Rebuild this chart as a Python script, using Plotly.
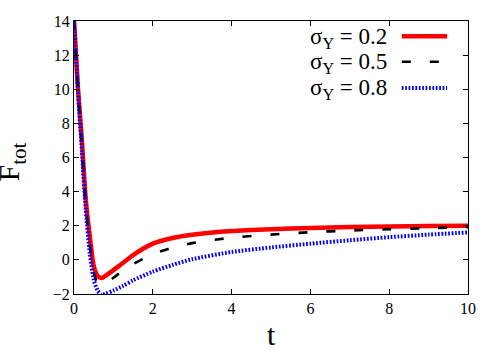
import plotly.graph_objects as go

# ---- data ----
t = [0, 0.1, 0.2, 0.3, 0.4, 0.5, 0.6, 0.7, 0.8, 1.0, 1.25, 1.5, 2.0, 2.5, 3.0, 4.0, 5.0, 6.0, 7.0, 8.0, 9.0, 10.0]
f_02 = [14, 10.1, 7.0, 3.5, 1.4, -0.35, -0.95, -1.06, -0.93, -0.6, -0.17, 0.28, 0.95, 1.28, 1.47, 1.69, 1.8, 1.87, 1.92, 1.95, 1.98, 2.0]
f_05 = [14, 10.0, 6.7, 3.2, 0.9, -0.75, -1.38, -1.47, -1.38, -1.05, -0.62, -0.25, 0.33, 0.72, 0.98, 1.3, 1.48, 1.62, 1.72, 1.8, 1.86, 1.92]
f_08 = [14, 9.9, 6.4, 2.9, 0.4, -1.15, -1.8, -2.05, -1.98, -1.8, -1.52, -1.2, -0.69, -0.3, 0.04, 0.46, 0.73, 0.95, 1.15, 1.33, 1.48, 1.61]
labels = ["σ<sub>Y</sub> = 0.2", "σ<sub>Y</sub> = 0.5", "σ<sub>Y</sub> = 0.8"]
x_ticks = [0, 2, 4, 6, 8, 10]
y_ticks = [-2, 0, 2, 4, 6, 8, 10, 12, 14]

SERIF = "Liberation Serif"
styles = [
    dict(color="#ff0000", width=4.5, dash="solid"),
    dict(color="#000000", width=2.6, dash="9px,19px"),
    dict(color="#0000ff", width=4, dash="1.7px,1.7px"),
]
series = [f_02, f_05, f_08]

fig = go.Figure()
for ys, st, lab in zip(series, styles, labels):
    fig.add_trace(go.Scatter(x=t, y=ys, mode="lines", name=lab,
                             line=dict(color=st["color"], width=st["width"],
                                       dash=st["dash"], shape="spline", smoothing=0.7),
                             showlegend=False, hoverinfo="skip"))

# legend drawn manually (text left, sample right)
row_y = [0.939, 0.846, 0.750]
for lab, st, yy in zip(labels, styles, row_y):
    fig.add_annotation(x=0.80, y=yy, xref="paper", yref="paper", text=lab,
                       showarrow=False, xanchor="right", yanchor="middle",
                       font=dict(family=SERIF, size=23, color="black"))
    fig.add_shape(type="line", xref="paper", yref="paper", x0=0.832, x1=0.947, y0=yy + 0.005, y1=yy + 0.005,
                  line=dict(color=st["color"], width=st["width"], dash=st["dash"]))

axis_common = dict(showline=True, linecolor="black", linewidth=1, mirror="ticks",
                   ticks="inside", ticklen=5, tickcolor="black", showgrid=False, zeroline=False,
                   tickfont=dict(family=SERIF, size=16, color="black"))
fig.update_xaxes(range=[0, 10], tickvals=x_ticks, **axis_common)
fig.update_yaxes(range=[-2, 14], tickvals=y_ticks, **axis_common)

fig.add_annotation(x=-0.16, y=0.485, xref="paper", yref="paper", text="F<sub>tot</sub>",
                   showarrow=False, textangle=-90, xanchor="center", yanchor="middle",
                   font=dict(family=SERIF, size=30, color="black"))
fig.add_annotation(x=0.5, y=-0.15, xref="paper", yref="paper", text="t",
                   showarrow=False, xanchor="center", yanchor="middle",
                   font=dict(family=SERIF, size=30, color="black"))

fig.update_layout(width=500, height=350, margin=dict(l=74, r=32, t=21, b=56),
                  plot_bgcolor="white", paper_bgcolor="white", showlegend=False,
                  font=dict(family=SERIF))

fig.write_html("out.html", config={"displayModeBar": False},
               post_script="document.body.style.margin='0';document.body.style.padding='0';")
